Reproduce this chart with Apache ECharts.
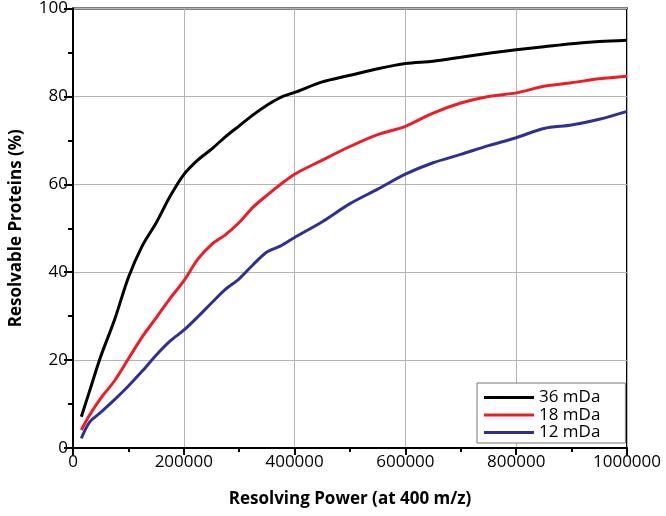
<!DOCTYPE html>
<html>
<head>
<meta charset="utf-8">
<script src="https://cdn.jsdelivr.net/npm/echarts@6/dist/echarts.min.js"></script>
<style>html,body{margin:0;padding:0;background:#fff;}#c{width:666px;height:516px;}</style>
</head>
<body>
<div id="c"></div>
<script>
const xValues = [15000, 30000, 50000, 75000, 100000, 125000, 150000, 175000, 200000, 225000, 250000, 275000, 300000, 325000, 350000, 375000, 400000, 450000, 500000, 550000, 600000, 650000, 700000, 750000, 800000, 850000, 900000, 950000, 1000000];
const s36 = [7.1, 13.0, 20.8, 29.2, 38.8, 46.0, 51.2, 57.2, 62.2, 65.5, 68.0, 70.8, 73.3, 75.8, 78.0, 79.8, 80.9, 83.3, 84.8, 86.3, 87.5, 88.0, 88.9, 89.8, 90.6, 91.3, 92.0, 92.5, 92.8];
const s18 = [4.1, 7.5, 11.3, 15.3, 20.3, 25.3, 29.6, 34.0, 38.0, 42.9, 46.3, 48.5, 51.3, 54.8, 57.5, 60.0, 62.3, 65.5, 68.6, 71.3, 73.2, 76.2, 78.5, 80.0, 80.8, 82.3, 83.1, 84.0, 84.6];
const s12 = [2.2, 5.9, 8.1, 11.0, 14.1, 17.5, 21.1, 24.3, 26.8, 29.8, 33.0, 36.1, 38.5, 41.7, 44.6, 46.0, 47.9, 51.5, 55.6, 58.9, 62.3, 64.9, 66.8, 68.8, 70.6, 72.7, 73.5, 74.8, 76.6];
const seriesNames = ['36 mDa', '18 mDa', '12 mDa'];
const seriesColors = ['#000000', '#ee1c25', '#2e3192'];
const xTitle = 'Resolving Power (at 400 m/z)';
const yTitle = 'Resolvable Proteins (%)';

const font = 'Open Sans';
const chart = echarts.init(document.getElementById('c'), null, {renderer: 'canvas'});
const all = [s36, s18, s12];
chart.setOption({
  animation: false,
  backgroundColor: '#fff',
  grid: {left: 72, right: 39, top: 7, bottom: 68, show: true, borderColor: '#000', borderWidth: 2, backgroundColor: 'transparent'},
  legend: {
    left: 477, top: 383, orient: 'vertical',
    backgroundColor: '#fff', borderColor: '#777', borderWidth: 1,
    padding: [6, 25, 2, 7], itemGap: 0.5,
    itemWidth: 50, itemHeight: 3, icon: 'rect',
    textStyle: {fontFamily: font, fontSize: 17, color: '#000', lineHeight: 15},
    data: seriesNames
  },
  xAxis: {
    type: 'value', min: 0, max: 1000000, interval: 200000,
    name: xTitle, nameLocation: 'middle', nameGap: 43,
    nameTextStyle: {fontFamily: font, fontSize: 17, fontWeight: 'bold', color: '#000'},
    axisLine: {show: true, lineStyle: {color: '#000', width: 2}},
    axisTick: {show: true, length: 7, lineStyle: {color: '#000', width: 2}},
    minorTick: {show: true, splitNumber: 2, length: 4, lineStyle: {color: '#000', width: 2}},
    axisLabel: {fontFamily: font, fontSize: 17, color: '#000', margin: 6, formatter: v => String(v)},
    splitLine: {show: true, lineStyle: {color: '#b4b4b4', width: 1}}
  },
  yAxis: {
    type: 'value', min: 0, max: 100, interval: 20,
    name: yTitle, nameLocation: 'middle', nameGap: 48,
    nameTextStyle: {fontFamily: font, fontSize: 17, fontWeight: 'bold', color: '#000'},
    axisLine: {show: true, lineStyle: {color: '#000', width: 2}},
    axisTick: {show: true, length: 9, lineStyle: {color: '#000', width: 2}},
    minorTick: {show: true, splitNumber: 2, length: 5, lineStyle: {color: '#000', width: 2}},
    axisLabel: {fontFamily: font, fontSize: 17, color: '#000', margin: 5, formatter: v => String(v)},
    splitLine: {show: true, lineStyle: {color: '#b4b4b4', width: 1}}
  },
  series: seriesNames.map((n, k) => ({
    name: n, type: 'line', showSymbol: false, symbol: 'none', smooth: 0.3,
    color: seriesColors[k],
    lineStyle: {color: seriesColors[k], width: 3},
    data: xValues.map((x, i) => [x, all[k][i]])
  }))
});
</script>
</body>
</html>
